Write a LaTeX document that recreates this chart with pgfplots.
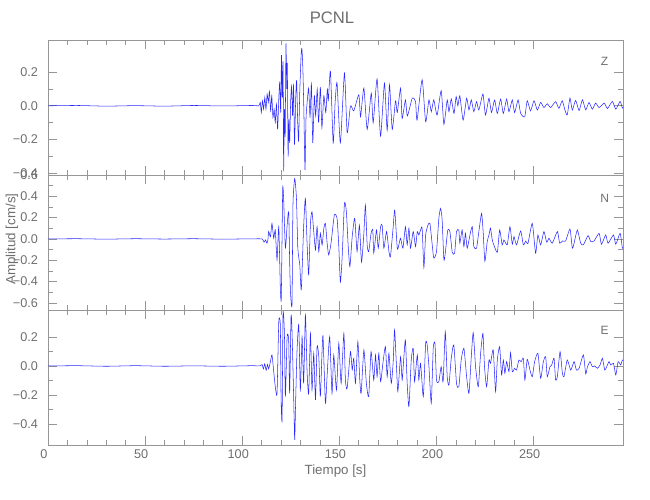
\documentclass[border=0pt]{standalone}
\usepackage{pgfplots}
\pgfplotsset{compat=1.18}
\usepackage{pgfplotstable}
\usepackage{fontspec}
\setmainfont{Liberation Sans}
\definecolor{axgray}{RGB}{150,150,150}
\definecolor{txtgray}{RGB}{110,110,110}
\definecolor{trblue}{RGB}{40,40,255}

\pgfplotstableread{
t a
0 0
15 0.002
30 -0.002
45 0.001
60 -0.002
75 0.002
90 -0.001
105 0.002
108.5 0
109.3 0.02
109.8 -0.04
110.4 0.03
111.0 -0.02
111.6 0.05
112.2 -0.02
112.8 0.07
113.4 0.02
114.0 0.085
114.6 -0.03
115.2 0.06
115.8 -0.07
116.4 -0.02
117.0 -0.10
117.6 0.01
118.2 -0.14
118.8 0.04
119.3 0.14
119.8 -0.04
120.2 0.30
120.6 0.05
121.0 0.26
121.3 -0.38
121.7 -0.02
122.1 -0.18
122.5 0.37
122.9 0.10
123.2 0.25
123.6 -0.30
124.0 -0.08
124.4 -0.22
124.9 0.02
125.4 0.115
125.9 -0.06
126.4 0.12
126.9 -0.23
127.5 0.04
128.0 0.15
128.5 -0.08
129.0 -0.21
129.6 0.08
130.3 0.30
130.7 0.34
131.2 0.22
131.7 -0.02
132.3 -0.38
132.8 -0.08
133.4 0.02
134.2 0.105
134.9 -0.07
135.6 0.13
136.3 -0.22
137.1 0.06
137.8 -0.06
138.6 0.10
139.3 -0.10
140.2 0.11
141.0 -0.13
142.0 0.06
143.0 -0.04
143.8 0.10
144.3 0.03
145.4 0.205
146.8 -0.22
147.8 0.02
148.8 0.135
150.5 -0.22
152.6 0.195
154.0 -0.16
155.7 0.0
157.4 -0.03
160.0 0.065
160.9 -0.065
162.6 0.105
164.3 -0.14
166.4 0.075
167.4 -0.10
169.4 0.16
171.2 -0.18
173.2 0.135
174.6 -0.145
175.8 0.125
177.2 -0.14
178.9 0.03
179.8 -0.04
181.5 0.105
182.3 -0.075
184.0 0.035
185.0 -0.06
187.5 0.045
189.2 0.025
190.0 -0.085
192.6 0.155
194.4 -0.095
196.1 0.035
197.3 -0.035
198.6 0.035
200.3 -0.055
202.4 0.09
203.8 -0.11
205.5 0.035
206.4 -0.035
207.6 0.04
209.0 -0.045
210.1 0.055
211.0 0.0
212.0 0.06
213.7 -0.085
215.5 0.045
216.7 -0.025
217.9 0.035
219.2 -0.035
220.6 0.025
221.8 -0.025
223.9 0.07
225.2 -0.055
227.0 0.045
228.3 -0.04
229.9 0.035
231.3 -0.045
233.0 0.04
234.4 -0.045
236.1 0.04
237.3 -0.035
239.0 0.035
240.2 -0.04
242.0 0.035
243.3 -0.045
245.4 -0.065
246.7 0.03
248.4 -0.03
250.2 0.03
251.9 -0.025
253.6 0.02
255.3 -0.01
257.0 0.012
258.8 -0.01
261.3 0.025
263.0 -0.015
264.7 0.03
266.1 -0.025
267.3 -0.054
268.7 0.046
269.9 -0.025
271.6 0.032
273.4 -0.028
275.1 0.036
276.8 -0.024
278.5 0.02
280.2 -0.02
281.9 0.016
283.7 -0.01
286.3 0.016
288.0 -0.016
290.5 0.026
292.3 -0.02
294.5 0.026
295.7 -0.014
296.6 0.0
}\tZ

\pgfplotstableread{
t a
0 0
15 0.002
30 -0.002
45 0.002
60 -0.001
75 0.002
90 -0.002
105 0.001
110.2 0
111.2 -0.03
112.0 -0.01
112.7 -0.04
113.2 -0.01
113.6 0.07
114.5 0.02
115.3 0.146
116.2 0.006
117.0 0.084
117.9 -0.196
118.8 0.115
119.6 -0.46
120.1 -0.55
120.8 0.458
121.3 0.38
122.2 -0.087
123.1 0.13
123.9 0.255
124.4 -0.21
124.8 -0.49
125.6 -0.62
126.1 0.32
127.0 0.567
127.9 0.38
128.6 -0.087
129.6 -0.243
130.4 -0.477
131.6 0.115
132.5 0.38
133.4 -0.056
134.2 -0.336
135.1 0.146
135.9 0.255
136.8 0.069
137.7 -0.103
138.5 0.115
139.4 -0.118
140.2 0.053
141.1 -0.056
142.0 0.1
142.8 0.146
143.7 -0.04
144.5 -0.15
145.7 -0.04
147.4 0.224
148.8 0.193
149.7 -0.072
150.5 -0.405
151.4 -0.18
152.6 0.333
153.6 0.255
154.5 -0.056
155.4 -0.26
156.6 0.022
157.9 0.193
159.1 -0.118
160.3 0.13
161.4 -0.218
162.6 0.053
163.4 0.318
164.3 -0.056
165.1 -0.118
166.3 0.053
167.2 0.084
167.7 -0.134
169.1 0.084
170.0 -0.087
171.2 0.115
172.0 0.13
172.9 -0.087
174.3 0.069
175.5 -0.118
176.3 -0.165
177.7 0.115
178.5 0.27
179.8 -0.087
180.6 -0.056
181.5 0.006
182.7 -0.087
184.0 0.115
184.9 -0.056
185.8 0.1
186.6 -0.087
188.0 0.069
189.2 -0.072
190.1 0.069
190.9 0.037
191.8 0.084
192.6 0.1
193.5 -0.268
194.4 0.037
195.6 0.13
196.6 0.146
197.8 -0.056
198.6 -0.18
200.0 -0.118
201.2 0.193
202.1 0.287
202.9 0.178
203.8 -0.196
204.6 -0.118
205.8 0.084
206.9 0.069
208.1 -0.125
209.3 -0.134
210.3 0.069
211.5 0.084
212.0 -0.04
213.2 0.084
214.1 -0.072
214.9 0.053
215.8 -0.087
217.2 0.037
218.4 0.115
219.2 -0.072
220.6 -0.087
221.8 0.069
223.2 0.24
224.0 0.069
224.9 -0.21
226.1 -0.025
227.0 0.037
227.8 0.1
228.7 -0.01
229.5 -0.056
231.3 -0.125
232.5 0.084
233.8 -0.056
234.7 -0.01
236.4 -0.056
237.8 0.115
239.0 -0.05
239.9 0.022
241.2 -0.056
243.3 0.075
244.7 -0.056
245.9 -0.02
247.1 -0.04
249.3 0.146
251.0 -0.134
252.2 0.037
253.6 -0.056
255.3 0.069
256.7 -0.031
257.9 0.006
259.6 -0.04
262.2 0.069
263.4 -0.04
264.8 -0.019
266.5 -0.019
268.7 0.093
269.9 -0.087
270.8 -0.04
272.5 0.084
274.2 -0.04
275.6 -0.056
278.0 0.031
279.4 -0.025
281.1 -0.019
283.7 0.053
284.9 -0.05
287.1 0.037
288.3 -0.04
291.1 0.037
292.3 -0.05
294.5 0.053
295.7 -0.087
296.6 -0.072
}\tN

\pgfplotstableread{
t a
0 0
15 0.002
30 -0.002
45 0.002
60 -0.002
75 0.001
90 -0.002
105 0.002
109 0
110.2 0.01
110.9 -0.02
111.6 0.015
112.3 -0.03
113.0 0.01
113.6 -0.02
114.5 0.03
115.3 0.076
116.2 -0.039
117.0 -0.143
117.9 -0.189
118.8 0.306
119.6 0.283
120.0 -0.234
120.5 -0.372
121.0 0.363
121.7 0.225
122.2 -0.211
123.1 0.202
123.9 0.179
124.4 -0.189
125.1 0.34
125.6 0.248
126.5 -0.234
127.0 -0.51
127.5 -0.234
128.2 0.11
129.1 0.283
129.9 -0.166
130.8 0.202
131.6 -0.12
132.5 0.352
133.4 -0.051
134.2 -0.189
135.1 0.225
135.9 -0.166
136.8 0.087
137.7 -0.234
138.5 0.133
139.4 0.064
140.2 -0.211
141.1 0.11
141.6 0.202
142.8 -0.257
143.7 -0.062
145.0 0.202
146.2 -0.189
147.1 0.076
148.5 -0.166
149.7 0.156
150.9 -0.12
152.3 0.225
153.1 -0.097
154.0 -0.154
155.7 0.099
156.6 -0.028
157.4 0.053
158.3 -0.12
159.5 0.168
160.5 -0.097
161.2 -0.189
162.6 0.11
163.9 -0.12
165.1 -0.211
166.3 0.099
167.7 -0.097
168.6 0.076
169.4 -0.074
170.3 0.087
171.2 -0.108
172.5 0.03
173.7 0.133
174.6 -0.074
175.5 0.087
176.7 -0.12
177.7 0.03
178.4 0.248
179.4 -0.005
180.1 -0.177
181.5 0.064
182.3 -0.097
183.2 0.064
184.0 0.179
184.9 -0.12
185.8 -0.28
187.0 0.041
188.0 0.122
188.7 -0.108
190.1 0.076
190.9 -0.097
191.8 0.018
193.2 -0.211
194.4 0.156
195.2 0.145
196.1 -0.005
197.3 -0.257
198.3 0.122
199.2 0.156
200.0 -0.097
201.2 -0.108
202.4 -0.005
203.4 -0.108
204.5 0.237
205.5 -0.074
206.4 -0.131
207.6 0.053
208.9 0.145
210.3 -0.12
211.5 -0.143
212.7 0.041
214.1 0.122
215.5 -0.074
216.7 -0.189
217.9 0.064
218.9 0.23
220.1 -0.005
221.5 -0.143
222.7 0.087
223.9 0.225
224.7 -0.005
225.8 -0.143
227.0 0.041
227.8 0.018
229.2 0.11
230.4 -0.177
231.3 0.041
232.5 0.133
233.5 -0.062
234.4 0.041
235.2 -0.051
236.1 0.03
237.3 -0.039
238.1 0.092
239.0 -0.039
240.2 -0.016
241.2 -0.028
242.4 0.041
243.6 0.03
244.7 0.053
245.5 -0.097
246.7 0.046
248.1 -0.028
249.3 -0.074
250.5 0.03
252.2 0.087
253.6 -0.085
255.0 0.03
256.2 0.064
257.0 -0.074
258.4 -0.005
259.3 0.007
260.5 0.053
261.3 -0.097
262.2 -0.074
263.6 0.099
264.8 -0.051
265.6 -0.074
267.3 0.041
269.1 -0.028
270.8 0.03
272.0 -0.028
273.4 -0.016
275.6 0.076
276.8 -0.055
277.7 -0.005
279.0 0.03
280.2 -0.005
281.4 0.0
282.8 -0.016
284.2 0.007
285.4 0.053
286.6 -0.028
287.6 -0.005
288.8 0.03
289.7 0.007
291.1 0.018
292.3 -0.062
293.5 0.03
294.8 0.007
295.7 0.041
296.6 0.03
}\tE

\pgfplotsset{
  seis/.style={
    scale only axis,
    width=431.25pt, height=101.25pt,
    anchor=north west,
    xmin=0, xmax=296,
    axis line style={axgray, line width=0.5pt},
    every tick/.style={axgray, line width=0.5pt},
    major tick length=7pt, minor tick length=3.5pt,
    xtick={0,50,100,150,200,250},
    minor x tick num=4,
    minor y tick num=1,
    tick align=inside,
    xtick pos=both, ytick pos=both,
    ticklabel style={font=\fontsize{9.5}{10}\selectfont, text=txtgray},
    yticklabel style={xshift=-4pt},
    xticklabels={},
    clip=true,
  },
  trace/.style={trblue, line width=0.4pt, no marks, smooth, tension=0.35},
}

\begin{document}
\begin{tikzpicture}
\useasboundingbox (0,0) rectangle (487.5pt,-375pt);

\begin{axis}[seis, at={(36pt,-30pt)},
  ymin=-0.41, ymax=0.39,
  ytick={-0.4,-0.2,0,0.2},
  yticklabels={−0.4,−0.2,0.0,0.2}]
\addplot[trace] table[x=t,y=a] {\tZ};
\node[text=txtgray, font=\fontsize{9}{10}\selectfont] at (rel axis cs:0.968,0.84) {Z};
\end{axis}

\begin{axis}[seis, at={(36pt,-131.25pt)},
  ymin=-0.667, ymax=0.6,
  ytick={-0.6,-0.4,-0.2,0,0.2,0.4,0.6},
  yticklabels={−0.6,−0.4,−0.2,0.0,0.2,0.4,0.6}]
\addplot[trace] table[x=t,y=a] {\tN};
\node[text=txtgray, font=\fontsize{9}{10}\selectfont] at (rel axis cs:0.968,0.83) {N};
\end{axis}

\begin{axis}[seis, at={(36pt,-232.5pt)},
  ymin=-0.545, ymax=0.386,
  ytick={-0.4,-0.2,0,0.2},
  yticklabels={−0.4,−0.2,0.0,0.2},
  xticklabels={0,50,100,150,200,250},
  xticklabel style={xshift=-3pt},
  xlabel={Tiempo [s]},
  xlabel style={text=txtgray, font=\fontsize{10}{12}\selectfont, yshift=2pt}]
\addplot[trace] table[x=t,y=a] {\tE};
\node[text=txtgray, font=\fontsize{9}{10}\selectfont] at (rel axis cs:0.968,0.85) {E};
\end{axis}

\node[text=txtgray, font=\fontsize{12.5}{14}\selectfont] at (249pt,-13.5pt) {PCNL};
\node[text=txtgray, font=\fontsize{10}{12}\selectfont, rotate=90] at (9pt,-179.25pt) {Amplitud [cm/s]};
\end{tikzpicture}
\end{document}
